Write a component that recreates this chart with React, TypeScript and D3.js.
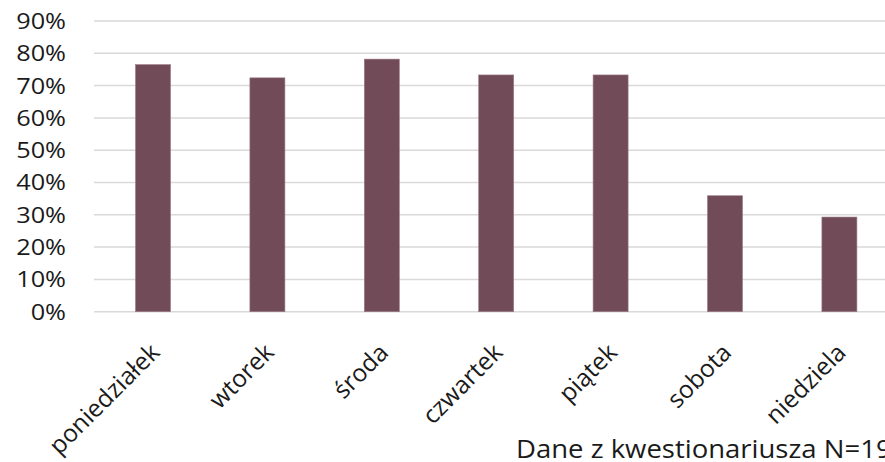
import React from "react";
import * as d3 from "d3";

const days = ["poniedziałek", "wtorek", "środa", "czwartek", "piątek", "sobota", "niedziela"];
const shares = [0.765, 0.724, 0.782, 0.733, 0.733, 0.359, 0.293];
const yTicks = [0, 0.1, 0.2, 0.3, 0.4, 0.5, 0.6, 0.7, 0.8, 0.9];
const footnote = "Dane z kwestionariusza N=19";

const W = 885;
const H = 462;
const font = "'Open Sans', 'Noto Sans', sans-serif";
// the reference looks horizontally stretched, so text gets a small x-scale
const SX = 1.15;

const App: React.FC = () => {
  const x = d3.scaleBand<string>().domain(days).range([95.8, 896.6]).paddingInner(0.694).paddingOuter(0.347);
  const y = d3.scaleLinear().domain([0, 0.9]).range([311.7, 21]);
  const fmt = d3.format(".0%");

  return (
    <svg width={W} height={H} style={{ position: "absolute", left: 0, top: 0, background: "#fff" }}>
      {/* gridlines */}
      {yTicks.map((t) => (
        <line key={t} x1={94} x2={W} y1={y(t)} y2={y(t)} stroke="#d9d9d9" strokeWidth={1.5} />
      ))}
      {/* y labels */}
      {yTicks.map((t) => (
        <text
          key={"l" + t}
          transform={`translate(66,${y(t)}) scale(${SX},1)`}
          dy="0.36em"
          textAnchor="end"
          fontFamily={font}
          fontSize={22}
          fill="#1a1a1a"
        >
          {fmt(t)}
        </text>
      ))}
      {/* bars */}
      {days.map((d, i) => (
        <rect
          key={d}
          x={x(d)!}
          y={y(shares[i])}
          width={x.bandwidth()}
          height={y(0) - y(shares[i])}
          fill="#714b58"
          stroke="#9a7b85"
          strokeWidth={0.6}
        />
      ))}
      {/* category labels */}
      {days.map((d) => {
        const cx = x(d)! + x.bandwidth() / 2;
        return (
          <text
            key={"c" + d}
            transform={`translate(${cx + 8},354) rotate(-45)`}
            textAnchor="end"
            fontFamily={font}
            fontSize={24.5}
            fill="#1a1a1a"
          >
            {d}
          </text>
        );
      })}
      <text transform={`translate(516,458) scale(1.1,1)`} fontFamily={font} fontSize={25} fill="#1a1a1a">
        {footnote}
      </text>
    </svg>
  );
};

export default App;
